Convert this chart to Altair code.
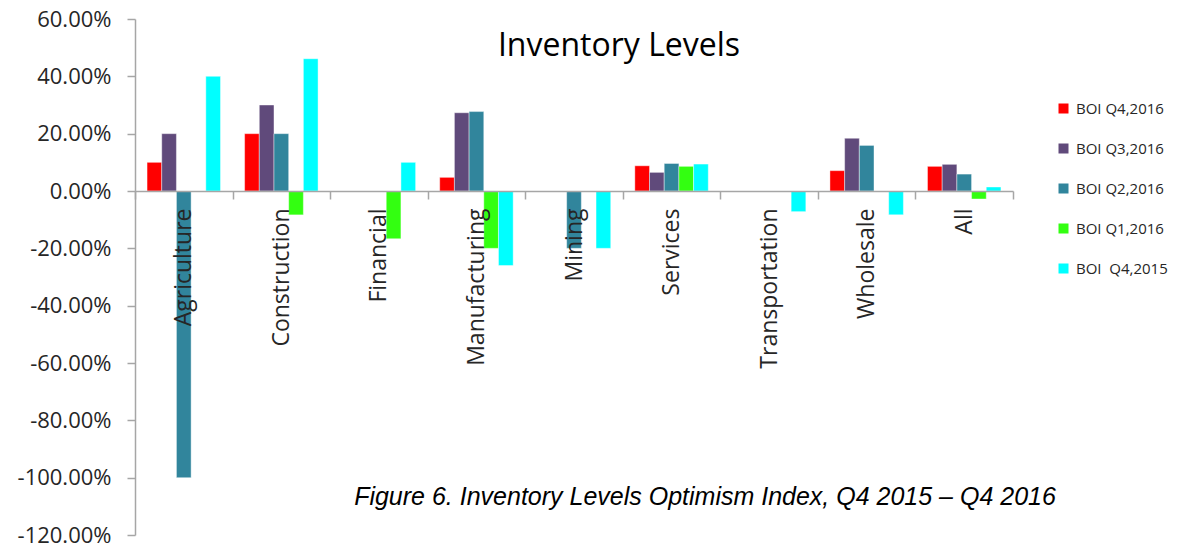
import altair as alt
import pandas as pd

# Sectors on the x axis and the five survey rounds drawn in each sector
sectors = ["Agriculture", "Construction", "Financial", "Manufacturing", "Mining",
           "Services", "Transportation", "Wholesale", "All"]
series = ["BOI Q4,2016", "BOI Q3,2016", "BOI Q2,2016", "BOI Q1,2016", "BOI\u00a0 Q4,2015"]
colors = ["#FF0000", "#604A7B", "#31859C", "#33FF11", "#00FFFF"]

# Optimism index per sector, in percent (0 = no bar)
q4_2016 = [10, 20, 0, 4.76, 0, 8.8, 0, 7.1, 8.6]
q3_2016 = [20, 30, 0, 27.3, 0, 6.5, 0, 18.4, 9.3]
q2_2016 = [-100, 20, 0, 27.7, -20, 9.6, 0, 15.9, 5.9]
q1_2016 = [0, -8.33, -16.67, -20, 0, 8.6, 0, 0, -2.8]
q4_2015 = [40, 46.15, 10, -26, -20, 9.4, -7.2, -8.3, 1.4]

y_ticks = [-120, -100, -80, -60, -40, -20, 0, 20, 40, 60]

rows = []
for name, vals in zip(series, [q4_2016, q3_2016, q2_2016, q1_2016, q4_2015]):
    for sector, v in zip(sectors, vals):
        if v != 0:
            rows.append({"sector": sector, "series": name, "value": v})
df = pd.DataFrame(rows)

W, H = 878, 516
zero_px = H * 60 / 180  # where 0% sits from the top of the plot

bars = alt.Chart(df).mark_bar(stroke="#ffffff", strokeWidth=0.6, strokeOpacity=0.7).encode(
    x=alt.X("sector:N", sort=sectors,
            scale=alt.Scale(domain=sectors, paddingInner=0, paddingOuter=0),
            axis=alt.Axis(title=None, labelAngle=270, labelFont="Open Sans",
                          labelFontSize=23, labelColor="#262626", labelPadding=9,
                          tickBand="extent", tickSize=8, tickColor="#A6A6A6",
                          tickWidth=1.5, domainColor="#A6A6A6", domainWidth=1.5,
                          zindex=1, offset=-(H - zero_px))),
    xOffset=alt.XOffset("series:N", sort=series,
                        scale=alt.Scale(domain=series, paddingInner=0, paddingOuter=0.82)),
    y=alt.Y("value:Q", scale=alt.Scale(domain=[-120, 60], nice=False, zero=False),
            axis=alt.Axis(title=None, values=y_ticks, grid=False,
                          labelExpr="(datum.value < 0 ? '-' : '') + format(abs(datum.value), '.2f') + '%'",
                          labelFont="Open Sans", labelFontSize=22, labelColor="#262626",
                          labelPadding=16, tickSize=8, tickColor="#A6A6A6", tickWidth=1.5,
                          domainColor="#A6A6A6", domainWidth=1.5)),
    color=alt.Color("series:N", sort=series,
                    scale=alt.Scale(domain=series, range=colors),
                    legend=alt.Legend(title=None, orient="none", legendX=921, legendY=82,
                                      symbolType="square", symbolSize=100,
                                      symbolStrokeWidth=0, labelFont="Open Sans",
                                      labelFontSize=15, labelColor="#262626",
                                      rowPadding=24, labelOffset=5, padding=0)),
)

title_df = pd.DataFrame({"t": ["Inventory Levels"]})
title = alt.Chart(title_df).mark_text(
    font="Open Sans", fontSize=32, color="#000000", align="center", baseline="alphabetic"
).encode(x=alt.value(484), y=alt.value(37), text="t:N")

caption_df = pd.DataFrame({"t": ["Figure 6. Inventory Levels Optimism Index, Q4 2015 \u2013 Q4 2016"]})
caption = alt.Chart(caption_df).mark_text(
    font="Liberation Sans", fontSize=25, fontStyle="italic", color="#000000",
    align="center", baseline="alphabetic"
).encode(x=alt.value(570), y=alt.value(486), text="t:N")

chart = alt.layer(bars, title, caption).properties(
    width=W, height=H,
    autosize=alt.AutoSizeParams(type="none"),
    padding={"left": 135, "top": 19, "right": 170, "bottom": 13},
    background="#ffffff",
).configure_view(stroke=None)

chart.save("out.html", embed_options={"renderer": "svg", "actions": False})
